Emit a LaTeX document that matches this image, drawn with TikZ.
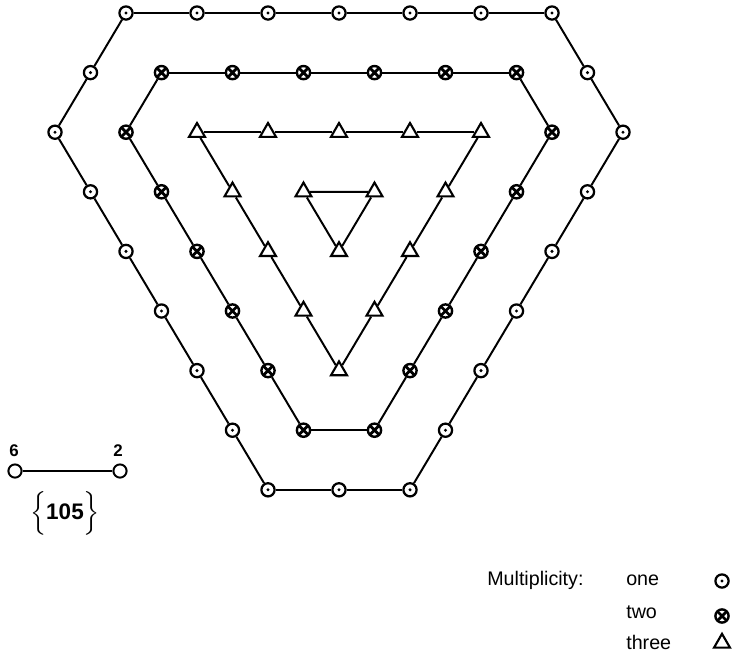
\documentclass[tikz,border=0pt]{standalone}
\usepackage{amsmath,fontspec}
\setmainfont{Liberation Sans}
\usetikzlibrary{shapes.geometric}

\begin{document}
\begin{tikzpicture}[x=0.025cm,y=-0.025cm,
  wire/.style={line width=1.4pt},
  one/.style={circle,draw,fill=white,line width=1.6pt,minimum size=0.33cm,inner sep=0pt,
    path picture={\fill[black] (path picture bounding box.center) circle (1.2pt);}},
  two/.style={circle,draw,fill=white,line width=1.7pt,minimum size=0.33cm,inner sep=0pt,
    path picture={\draw[black,line width=2pt]
      (path picture bounding box.north west)--(path picture bounding box.south east)
      (path picture bounding box.north east)--(path picture bounding box.south west);}},
  three/.style={regular polygon,regular polygon sides=3,draw,fill=white,
    line width=1.5pt,minimum size=0.46cm,inner sep=0pt},
  open/.style={circle,draw,fill=white,line width=1.4pt,minimum size=0.33cm,inner sep=0pt},
  legend/.style={anchor=base west,inner sep=0pt,font=\fontsize{14}{16}\selectfont}]
 \useasboundingbox (0,0) rectangle (737,652);
 % multiplicity one: the (6,2) hexagon
 \foreach [count=\n] \i/\j in {2/0,4/0,6/0,8/0,10/0,12/0,14/0,15/1,16/2,15/3,14/4,13/5,
   12/6,11/7,10/8,8/8,6/8,5/7,4/6,3/5,2/4,1/3,0/2,1/1}
  \node[one] (a\n) at ({55+35.5*\i},{13+59.6*\j}) {};
 \foreach \n [evaluate=\n as \m using {int(mod(\n,24)+1)}] in {1,...,24}
  \draw[wire] (a\n) -- (a\m);
 % multiplicity two: the (5,1) hexagon
 \foreach [count=\n] \i/\j in {3/1,5/1,7/1,9/1,11/1,13/1,14/2,13/3,12/4,11/5,10/6,9/7,
   7/7,6/6,5/5,4/4,3/3,2/2}
  \node[two] (b\n) at ({55+35.5*\i},{13+59.6*\j}) {};
 \foreach \n [evaluate=\n as \m using {int(mod(\n,18)+1)}] in {1,...,18}
  \draw[wire] (b\n) -- (b\m);
 % multiplicity three: triangles (4,0) and (1,0)
 \foreach [count=\n] \i/\j in {4/2,6/2,8/2,10/2,12/2,11/3,10/4,9/5,8/6,7/5,6/4,5/3}
  \node[three] (c\n) at ({55+35.5*\i},{13+59.6*\j}) {};
 \foreach \n [evaluate=\n as \m using {int(mod(\n,12)+1)}] in {1,...,12}
  \draw[wire] (c\n) -- (c\m);
 \foreach [count=\n] \i/\j in {7/3,9/3,8/4}
  \node[three] (d\n) at ({55+35.5*\i},{13+59.6*\j}) {};
 \draw[wire] (d1) -- (d2) -- (d3) -- (d1);
 % Dynkin label
 \node[open] (l6) at (15,471) {};
 \node[open] (l2) at (120,471) {};
 \draw[wire] (l6) -- (l2);
 \node[font=\fontsize{12}{14}\selectfont\bfseries] (n6) at (14,451) {6};
 \node[font=\fontsize{12}{14}\selectfont\bfseries] (n2) at (118,451) {2};
 \node[font=\fontsize{16}{19}\selectfont\bfseries] (dim) at (65,513) {$\boldsymbol{\Big\{}$105$\boldsymbol{\Big\}}$};
 % key
 \node[legend] (mult) at (487,585) {Multiplicity:};
 \node[legend] (kone) at (626,585) {one};
 \node[legend] (ktwo) at (626,618) {two};
 \node[legend] (kthree) at (626,649) {three};
 \node[one] (sone) at (722,581) {};
 \node[two] (stwo) at (722,616) {};
 \node[three] (sthree) at (722,643) {};
\end{tikzpicture}
\end{document}
